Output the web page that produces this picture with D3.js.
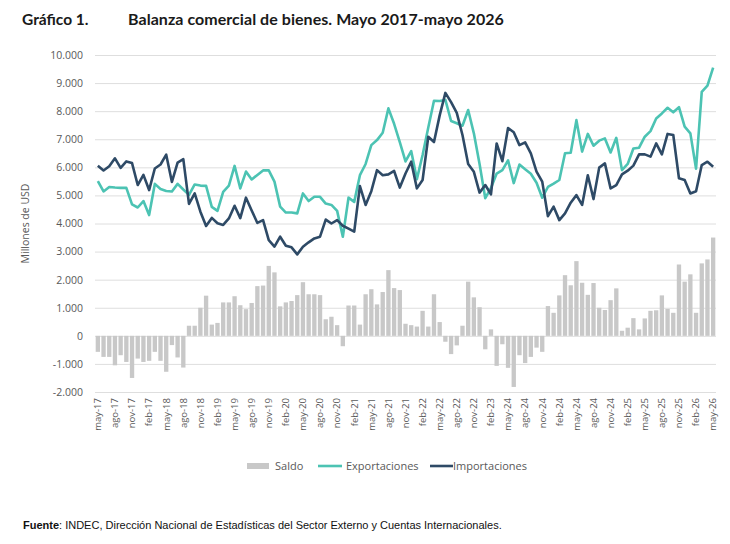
<!DOCTYPE html>
<html>
<head>
<meta charset="utf-8">
<script src="https://cdn.jsdelivr.net/npm/d3@7"></script>
<style>
  body { margin: 0; background: #fff; }
</style>
</head>
<body>
<div id="chart"></div>
<script>
// tick labels as printed in the source (every 3 months)
const tickLabels = ["may-17","ago-17","nov-17","feb-17","may-18","ago-18","nov-18","feb-19","may-19","ago-19",
  "nov-19","feb-20","may-20","ago-20","nov-20","feb-21","may-21","ago-21","nov-21","feb-22",
  "may-22","ago-22","nov-22","feb-23","may-24","ago-24","nov-24","feb-24","may-24","ago-24",
  "nov-24","feb-25","may-25","ago-25","nov-25","feb-26","may-26"];

// millones de USD, may-17 .. may-26 (109 months)
const saldo = [-570,-750,-750,-1050,-690,-930,-1500,-810,-930,-890,-570,-890,-1280,-330,-770,-1130,
  360,360,1000,1430,400,460,1190,1190,1410,1090,950,1170,1770,1790,2490,2260,1050,1190,1240,1450,
  1910,1480,1480,1450,590,680,380,-370,1080,1080,400,1480,1660,1120,1560,2340,1700,1630,430,380,
  330,890,330,1480,490,-210,-650,-340,360,1930,1370,1020,-480,230,-1070,-300,-1140,-1820,-690,
  -970,-750,-420,-570,1060,820,1440,2160,1800,2660,1890,1460,1880,1000,920,1270,1690,180,290,630,
  230,620,890,910,1440,960,820,2540,1930,2190,820,2580,2720,3500];

const exportaciones = [5510,5140,5300,5280,5270,5270,4680,4570,4800,4300,5410,5230,5160,5140,5410,5210,
  5020,5390,5350,5340,4590,4450,5130,5350,6050,5250,5850,5570,5730,5890,5890,5490,4600,4390,4390,4360,
  5070,4800,4950,4950,4710,4660,4450,3530,4920,4770,5720,6120,6790,6970,7230,8100,7550,6900,6210,6580,
  5580,6440,7420,8370,8360,8400,7650,7570,7480,8040,7210,6120,4900,5260,5780,5900,6250,5440,6100,
  5930,5770,5450,4920,5300,5420,5550,6500,6520,7680,6560,7190,6770,6950,7030,6530,7050,5900,6120,6670,
  6700,7090,7290,7740,7920,8120,7960,8140,7450,7210,5950,8690,8910,9550];

const importaciones = [6060,5890,6040,6320,5980,6210,6150,5370,5730,5190,5960,6100,6450,5480,6170,6290,
  4700,5070,4420,3910,4200,4010,3950,4180,4630,4190,4920,4460,4020,4120,3410,3180,3530,3210,3150,2900,
  3170,3330,3470,3530,4140,4000,4120,3920,3820,3710,5330,4660,5150,5900,5720,5750,5870,5280,5780,6200,
  5250,5550,7090,6900,7850,8650,8320,7940,7150,6120,5840,5100,5370,5040,6850,6220,7400,7250,6790,
  6890,6500,5850,5490,4260,4600,4120,4360,4740,5010,4660,5720,4870,5990,6140,5250,5370,5750,5880,6060,
  6460,6460,6380,6850,6460,7190,7150,5610,5550,5070,5150,6080,6200,6020];

const yTicks = [-2000,-1000,0,1000,2000,3000,4000,5000,6000,7000,8000,9000,10000];

const W = 730, H = 544;
const M = {t: 55, r: 14, b: 152, l: 95};
const colSaldo = "#c8c8c8", colExp = "#4cc3b3", colImp = "#2e4a66";
const axisFont = "'Open Sans', sans-serif";

const svg = d3.select("#chart").append("svg")
  .attr("width", W)
  .attr("height", H);

const months = d3.range(saldo.length);

const x = d3.scaleBand()
  .domain(months)
  .range([M.l, W - M.r])
  .paddingInner(0.24)
  .paddingOuter(0.12);

const y = d3.scaleLinear()
  .domain([-2000, 10000])
  .range([H - M.b, M.t]);

const fmt = d3.formatLocale({decimal: ",", thousands: ".", grouping: [3], currency: ["$", ""], minus: "-"}).format(",d");

// title
svg.append("text")
  .attr("x", 22).attr("y", 25)
  .style("font-family", "Lato, sans-serif")
  .style("font-size", "15.5px").style("font-weight", 700)
  .attr("fill", "#1a1a1a")
  .text("Gráfico 1.");
svg.append("text")
  .attr("x", 128).attr("y", 25)
  .style("font-family", "Lato, sans-serif")
  .style("font-size", "16px").style("font-weight", 700)
  .style("letter-spacing", "0.05px")
  .attr("fill", "#1a1a1a")
  .text("Balanza comercial de bienes. Mayo 2017-mayo 2026");

// gridlines + y axis
const yAxis = svg.append("g")
  .attr("transform", `translate(${M.l},0)`)
  .call(d3.axisLeft(y).tickValues(yTicks).tickFormat(fmt).tickSize(-(W - M.r - M.l)).tickPadding(12));
yAxis.select(".domain").remove();
yAxis.selectAll(".tick line").attr("stroke", "#dedede").attr("stroke-width", 1);
yAxis.selectAll(".tick text").attr("fill", "#595959")
  .style("font-size", "10.5px").style("font-family", axisFont);

svg.append("text")
  .attr("transform", `translate(29,${(M.t + H - M.b) / 2}) rotate(-90)`)
  .attr("text-anchor", "middle")
  .attr("fill", "#595959")
  .style("font-size", "10.5px").style("font-family", axisFont)
  .text("Millones de USD");

// bars
svg.append("g").selectAll("rect")
  .data(saldo)
  .enter()
  .append("rect")
  .attr("x", (d, i) => x(i))
  .attr("width", x.bandwidth())
  .attr("y", d => y(Math.max(0, d)))
  .attr("height", d => Math.abs(y(d) - y(0)))
  .attr("fill", colSaldo);

// lines
const cx = i => x(i) + x.bandwidth() / 2;
const line = d3.line().x((d, i) => cx(i)).y(d => y(d));

svg.append("path")
  .datum(exportaciones)
  .attr("d", line)
  .attr("fill", "none")
  .attr("stroke", colExp)
  .attr("stroke-width", 2.6)
  .attr("stroke-linejoin", "round");

svg.append("path")
  .datum(importaciones)
  .attr("d", line)
  .attr("fill", "none")
  .attr("stroke", colImp)
  .attr("stroke-width", 2.6)
  .attr("stroke-linejoin", "round");

// x axis labels, every 3 months
const tickIdx = months.filter(i => i % 3 === 0);
const xAxis = svg.append("g")
  .attr("transform", `translate(0,${H - M.b})`)
  .call(d3.axisBottom(x).tickValues(tickIdx).tickSize(0).tickFormat((d, i) => tickLabels[i]));
xAxis.select(".domain").remove();
xAxis.selectAll(".tick text")
  .attr("transform", "rotate(-90)")
  .attr("text-anchor", "end")
  .attr("x", -6).attr("y", 0).attr("dy", "0.35em")
  .attr("fill", "#595959")
  .style("font-size", "9.5px").style("font-family", axisFont);

// legend
const lg = svg.append("g").style("font-size", "11px").style("font-family", axisFont);
lg.append("rect").attr("x", 247).attr("y", 463).attr("width", 22).attr("height", 6).attr("fill", colSaldo);
lg.append("text").attr("x", 275).attr("y", 470).attr("fill", "#595959").text("Saldo");
lg.append("line").attr("x1", 318).attr("x2", 342).attr("y1", 466).attr("y2", 466)
  .attr("stroke", colExp).attr("stroke-width", 2.6);
lg.append("text").attr("x", 346).attr("y", 470).attr("fill", "#595959").text("Exportaciones");
lg.append("line").attr("x1", 430).attr("x2", 453).attr("y1", 466).attr("y2", 466)
  .attr("stroke", colImp).attr("stroke-width", 2.6);
lg.append("text").attr("x", 453).attr("y", 470).attr("fill", "#595959").text("Importaciones");

// source
const src = svg.append("text")
  .attr("x", 23).attr("y", 529)
  .style("font-family", "'Liberation Sans', Arial, sans-serif")
  .style("font-size", "11px")
  .attr("fill", "#111");
src.append("tspan").style("font-weight", 700).text("Fuente");
src.append("tspan").text(": INDEC, Dirección Nacional de Estadísticas del Sector Externo y Cuentas Internacionales.");
</script>
</body>
</html>
